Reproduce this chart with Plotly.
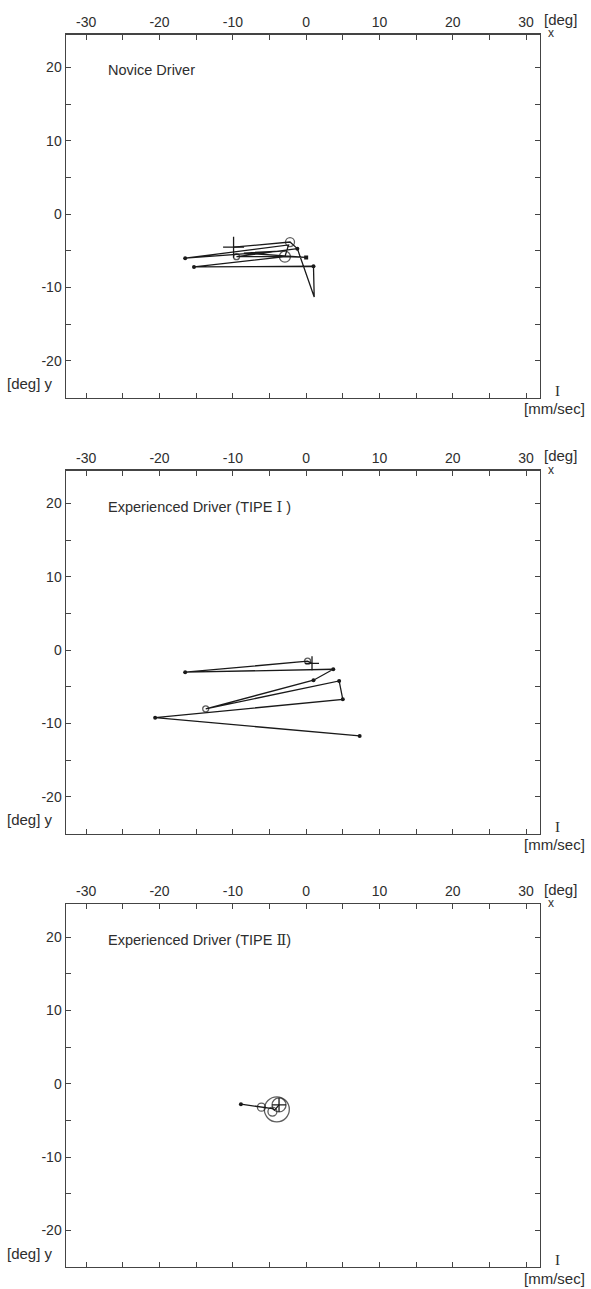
import plotly.graph_objects as go

W, H = 591, 1289

# ---------------- data ----------------
x_ticks = [-30, -25, -20, -15, -10, -5, 0, 5, 10, 15, 20, 25, 30]
x_tick_text = ["-30", "", "-20", "", "-10", "", "0", "", "10", "", "20", "", "30"]
y_ticks = [-20, -15, -10, -5, 0, 5, 10, 15, 20]
y_tick_text = ["-20", "", "-10", "", "0", "", "10", "", "20"]

SERIF = "<span style='font-family:DejaVu Serif'>{}</span>"
titles = ["Novice Driver",
          "Experienced Driver (TIPE " + SERIF.format("Ⅰ") + " )",
          "Experienced Driver (TIPE " + SERIF.format("Ⅱ") + ")"]

# Panel 1 - Novice driver scan path
p1_x = [-9.9, -2.2, -1.2, -9.5, -2.9, 0.0, -8.5, -2.9, -16.5, -2.4, -2.9, -15.3, 1.0, 1.1, -1.2]
p1_y = [-4.5, -3.8, -4.7, -5.8, -5.8, -5.9, -5.3, -5.0, -6.0, -4.2, -5.8, -7.2, -7.1, -11.3, -4.7]
p1_fix_x = [-2.2, -2.9, -9.5]
p1_fix_y = [-3.8, -5.8, -5.8]
p1_fix_d = [9, 11, 6]
p1_dot_x = [-16.5, -15.3, -1.2, 1.0]
p1_dot_y = [-6.0, -7.2, -4.7, -7.1]
p1_sq_x = [0.0]
p1_sq_y = [-5.9]
p1_start_x = [-9.9]
p1_start_y = [-4.5]

# Panel 2 - Experienced driver type I
p2_x = [0.8, 0.2, -16.5, 3.7, 1.0, -13.7, 4.5, 5.0, -20.6, 7.3]
p2_y = [-1.8, -1.5, -3.0, -2.6, -4.1, -8.0, -4.2, -6.7, -9.2, -11.7]
p2_fix_x = [0.2, -13.7]
p2_fix_y = [-1.5, -8.0]
p2_fix_d = [6, 6]
p2_dot_x = [-16.5, 3.7, 1.0, 4.5, 5.0, -20.6, 7.3]
p2_dot_y = [-3.0, -2.6, -4.1, -4.2, -6.7, -9.2, -11.7]
p2_start_x = [0.8]
p2_start_y = [-1.8]

# Panel 3 - Experienced driver type II
p3_x = [-8.9, -6.1, -4.6, -4.3, -3.7]
p3_y = [-2.8, -3.2, -3.4, -3.6, -2.9]
p3_fix_x = [-6.1, -4.0, -3.7, -4.6]
p3_fix_y = [-3.2, -3.5, -2.9, -3.8]
p3_fix_d = [8, 25, 14, 9]
p3_dot_x = [-8.9]
p3_dot_y = [-2.8]
p3_start_x = [-3.7]
p3_start_y = [-2.9]

# ---------------- layout helpers ----------------
LINE = "#1a1a1a"
TXT = "#2e2e2e"
FONT = "Liberation Sans, Arial, sans-serif"

x_left_px, x_right_px = 65.7, 540.0
panel_tops = [34.5, 470.5, 904.0]
panel_h = 363.0
x_range = [-32.8, 31.9]
y_range = [-25.0, 24.5]

fig = go.Figure()

panels = [
    dict(px=p1_x, py=p1_y, fx=p1_fix_x, fy=p1_fix_y, fd=p1_fix_d,
         dx=p1_dot_x, dy=p1_dot_y, sx=p1_start_x, sy=p1_start_y),
    dict(px=p2_x, py=p2_y, fx=p2_fix_x, fy=p2_fix_y, fd=p2_fix_d,
         dx=p2_dot_x, dy=p2_dot_y, sx=p2_start_x, sy=p2_start_y),
    dict(px=p3_x, py=p3_y, fx=p3_fix_x, fy=p3_fix_y, fd=p3_fix_d,
         dx=p3_dot_x, dy=p3_dot_y, sx=p3_start_x, sy=p3_start_y),
]

layout = {}
annotations = []


def ann(text, xpx, ypx, xanchor="left", size=15, family=FONT):
    annotations.append(dict(text=text, x=xpx / W, y=1 - ypx / H, xref="paper", yref="paper",
                            xanchor=xanchor, yanchor="middle", showarrow=False,
                            font=dict(family=family, size=size, color=TXT)))


for i, (p, top) in enumerate(zip(panels, panel_tops)):
    n = "" if i == 0 else str(i + 1)
    xa, ya = "x" + n, "y" + n
    fig.add_trace(go.Scatter(x=p["px"], y=p["py"], mode="lines",
                             line=dict(color=LINE, width=1.3),
                             xaxis=xa, yaxis=ya, showlegend=False, hoverinfo="skip"))
    fig.add_trace(go.Scatter(x=p["fx"], y=p["fy"], mode="markers",
                             marker=dict(symbol="circle-open", size=p["fd"],
                                         color=LINE, line=dict(width=1.3)),
                             xaxis=xa, yaxis=ya, showlegend=False))
    fig.add_trace(go.Scatter(x=p["dx"], y=p["dy"], mode="markers",
                             marker=dict(symbol="circle", size=4, color=LINE),
                             xaxis=xa, yaxis=ya, showlegend=False))
    fig.add_trace(go.Scatter(x=p["sx"], y=p["sy"], mode="markers",
                             marker=dict(symbol="cross-thin-open", size=15 if i == 0 else 10,
                                         color=LINE, line=dict(width=1.3, color=LINE)),
                             xaxis=xa, yaxis=ya, showlegend=False))
    if i == 0:
        fig.add_trace(go.Scatter(x=p1_sq_x, y=p1_sq_y, mode="markers",
                                 marker=dict(symbol="square", size=4, color=LINE),
                                 xaxis=xa, yaxis=ya, showlegend=False))

    bottom = top + panel_h
    y0 = 1 - bottom / H
    y1 = 1 - top / H
    layout["xaxis" + n] = dict(
        domain=[x_left_px / W, x_right_px / W], range=x_range, anchor=ya,
        side="top", tickmode="array", tickvals=x_ticks, ticktext=x_tick_text,
        ticks="inside", ticklen=5, tickwidth=1, tickcolor="#444",
        showline=True, linecolor="#444", linewidth=1.2, mirror="ticks",
        showgrid=False, zeroline=False, ticklabelstandoff=1,
        tickfont=dict(family=FONT, size=14, color=TXT), fixedrange=True)
    layout["yaxis" + n] = dict(
        domain=[y0, y1], range=y_range, anchor=xa,
        tickmode="array", tickvals=y_ticks, ticktext=y_tick_text,
        ticks="inside", ticklen=5, tickwidth=1, tickcolor="#444",
        showline=True, linecolor="#444", linewidth=1.2, mirror="ticks",
        showgrid=False, zeroline=False,
        tickfont=dict(family=FONT, size=14, color=TXT), fixedrange=True)

    ann(titles[i], 106, top + 36, size=14.5)
    ann("[deg]", 542, top - 15)
    ann("x", 546, top - 1, size=12)
    ann("[deg] y", 5, bottom - 14)
    ann("I", 553, bottom - 7, size=15, family="Liberation Serif, serif")
    ann("[mm/sec]", 522, bottom + 11)

fig.update_layout(**layout)
fig.update_layout(width=W, height=H, margin=dict(l=0, r=0, t=0, b=0),
                  paper_bgcolor="white", plot_bgcolor="white",
                  annotations=annotations, showlegend=False)

fig.write_html("out.html", config={"displayModeBar": False, "staticPlot": True},
               post_script="document.body.style.margin='0';document.body.style.overflow='hidden';")
